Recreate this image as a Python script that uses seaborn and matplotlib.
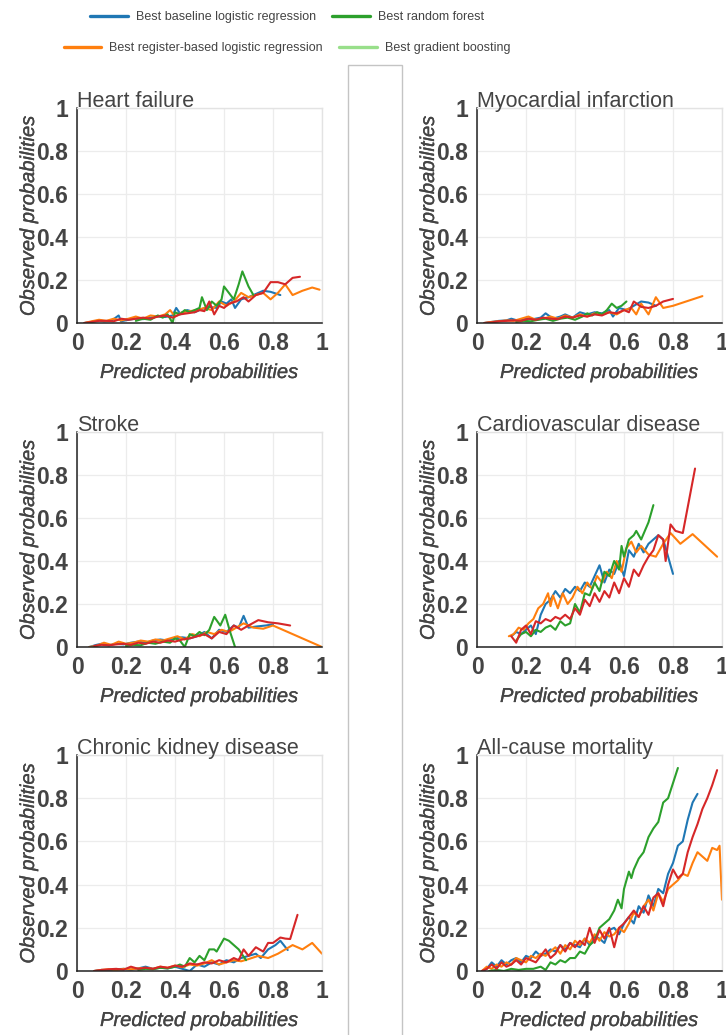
import numpy as np
import pandas as pd
import matplotlib
matplotlib.use("Agg")
import matplotlib.pyplot as plt
import seaborn as sns
from matplotlib.lines import Line2D
from matplotlib.patches import Rectangle
from matplotlib.ticker import MultipleLocator, FuncFormatter
from matplotlib import font_manager
import matplotlib.patheffects as pe

# ---------------- data ----------------
titles = ["Heart failure", "Myocardial infarction", "Stroke",
          "Cardiovascular disease", "Chronic kidney disease", "All-cause mortality"]
models = ["Best baseline logistic regression", "Best register-based logistic regression",
          "Best random forest", "Best gradient boosting"]

hf_base_x = [0.03,0.06,0.09,0.11,0.14,0.17,0.18,0.21,0.24,0.27,0.30,0.33,0.36,0.39,0.405,0.42,0.45,0.48,0.51,0.54,0.57,0.59,0.61,0.63,0.645,0.67,0.70,0.73,0.76,0.79,0.83]
hf_base_y = [0.0,0.005,0.012,0.008,0.01,0.035,0.008,0.015,0.02,0.018,0.025,0.03,0.028,0.035,0.07,0.045,0.06,0.05,0.065,0.075,0.07,0.1,0.09,0.11,0.07,0.11,0.12,0.135,0.15,0.145,0.13]
hf_reg_x = [0.03,0.06,0.09,0.12,0.15,0.18,0.21,0.24,0.27,0.30,0.33,0.36,0.38,0.40,0.43,0.46,0.49,0.52,0.55,0.58,0.61,0.64,0.67,0.70,0.73,0.76,0.79,0.82,0.85,0.88,0.92,0.96,0.99]
hf_reg_y = [0.0,0.008,0.015,0.01,0.02,0.012,0.02,0.03,0.02,0.035,0.03,0.04,0.06,0.03,0.05,0.055,0.06,0.07,0.06,0.1,0.08,0.1,0.14,0.12,0.13,0.14,0.11,0.14,0.18,0.13,0.15,0.165,0.155]
hf_rf_x = [0.24,0.27,0.30,0.33,0.35,0.37,0.39,0.40,0.42,0.44,0.46,0.48,0.50,0.51,0.53,0.55,0.57,0.59,0.60,0.62,0.64,0.66,0.675,0.70,0.72]
hf_rf_y = [0.01,0.02,0.015,0.035,0.025,0.04,0.0,0.05,0.04,0.06,0.05,0.06,0.07,0.12,0.06,0.10,0.08,0.11,0.17,0.14,0.11,0.18,0.24,0.17,0.13]
hf_gb_x = [0.03,0.06,0.09,0.12,0.15,0.18,0.21,0.24,0.27,0.30,0.33,0.36,0.39,0.42,0.45,0.48,0.50,0.52,0.54,0.56,0.58,0.60,0.62,0.65,0.68,0.70,0.73,0.76,0.79,0.82,0.85,0.88,0.91]
hf_gb_y = [0.0,0.005,0.01,0.01,0.008,0.02,0.015,0.02,0.025,0.02,0.03,0.035,0.025,0.04,0.045,0.05,0.06,0.055,0.1,0.04,0.08,0.07,0.09,0.1,0.12,0.1,0.13,0.14,0.19,0.19,0.18,0.21,0.215]

mi_base_x = [0.03,0.06,0.09,0.12,0.14,0.17,0.20,0.23,0.26,0.28,0.31,0.34,0.36,0.39,0.42,0.45,0.48,0.51,0.54,0.555,0.58,0.61,0.64,0.67,0.70,0.73]
mi_base_y = [0.0,0.005,0.01,0.012,0.02,0.01,0.02,0.018,0.025,0.045,0.02,0.03,0.04,0.025,0.05,0.04,0.05,0.045,0.06,0.03,0.07,0.06,0.08,0.1,0.095,0.08]
mi_reg_x = [0.03,0.06,0.09,0.12,0.15,0.18,0.21,0.24,0.27,0.30,0.33,0.36,0.39,0.42,0.45,0.48,0.51,0.54,0.57,0.60,0.63,0.65,0.67,0.70,0.73,0.76,0.80,0.84,0.88,0.92]
mi_reg_y = [0.0,0.005,0.008,0.012,0.01,0.02,0.03,0.015,0.02,0.03,0.02,0.035,0.025,0.04,0.03,0.045,0.04,0.05,0.04,0.06,0.07,0.04,0.09,0.04,0.12,0.07,0.08,0.095,0.11,0.125]
mi_rf_x = [0.16,0.19,0.22,0.25,0.28,0.31,0.34,0.37,0.40,0.43,0.45,0.47,0.49,0.51,0.53,0.55,0.57,0.59,0.61]
mi_rf_y = [0.005,0.01,0.008,0.015,0.02,0.01,0.02,0.025,0.015,0.03,0.045,0.035,0.05,0.04,0.06,0.09,0.07,0.08,0.10]
mi_gb_x = [0.03,0.06,0.09,0.12,0.15,0.18,0.21,0.24,0.27,0.30,0.33,0.36,0.39,0.42,0.45,0.48,0.51,0.54,0.57,0.60,0.62,0.64,0.67,0.70,0.73,0.76,0.80]
mi_gb_y = [0.0,0.003,0.008,0.01,0.012,0.01,0.02,0.015,0.025,0.02,0.018,0.03,0.025,0.035,0.03,0.04,0.035,0.05,0.045,0.06,0.05,0.1,0.075,0.07,0.08,0.1,0.112]

st_base_x = [0.05,0.08,0.10,0.13,0.16,0.19,0.22,0.25,0.28,0.31,0.34,0.37,0.40,0.43,0.46,0.49,0.52,0.55,0.58,0.61,0.64,0.66,0.68,0.70,0.73,0.77,0.80]
st_base_y = [0.0,0.01,0.015,0.008,0.015,0.012,0.02,0.025,0.02,0.03,0.035,0.03,0.04,0.045,0.04,0.05,0.07,0.04,0.08,0.07,0.1,0.09,0.145,0.09,0.095,0.1,0.105]
st_reg_x = [0.05,0.08,0.11,0.14,0.17,0.20,0.23,0.26,0.29,0.32,0.35,0.38,0.41,0.44,0.47,0.50,0.53,0.56,0.59,0.62,0.65,0.68,0.72,0.76,0.80,0.85,0.90,0.95,1.0]
st_reg_y = [0.0,0.005,0.02,0.01,0.025,0.015,0.02,0.03,0.025,0.035,0.03,0.04,0.05,0.035,0.06,0.05,0.07,0.06,0.08,0.07,0.09,0.11,0.09,0.085,0.1,0.075,0.05,0.025,0.0]
st_rf_x = [0.20,0.23,0.26,0.29,0.32,0.35,0.38,0.40,0.42,0.44,0.46,0.48,0.50,0.52,0.54,0.56,0.585,0.605,0.625,0.645]
st_rf_y = [0.005,0.01,0.008,0.02,0.015,0.025,0.02,0.04,0.03,0.0,0.06,0.05,0.07,0.055,0.08,0.14,0.1,0.15,0.07,0.0]
st_gb_x = [0.07,0.10,0.13,0.16,0.19,0.22,0.25,0.28,0.31,0.34,0.37,0.40,0.43,0.46,0.49,0.52,0.55,0.58,0.61,0.64,0.67,0.70,0.74,0.78,0.82,0.87]
st_gb_y = [0.005,0.01,0.008,0.012,0.015,0.01,0.02,0.015,0.025,0.02,0.03,0.025,0.035,0.04,0.05,0.06,0.04,0.07,0.06,0.1,0.08,0.1,0.125,0.115,0.11,0.1]

cvd_base_x = [0.14,0.16,0.18,0.20,0.22,0.24,0.26,0.28,0.30,0.32,0.34,0.36,0.38,0.40,0.42,0.44,0.46,0.48,0.50,0.52,0.54,0.56,0.58,0.60,0.62,0.64,0.66,0.68,0.70,0.72,0.74,0.76,0.78,0.80]
cvd_base_y = [0.05,0.07,0.06,0.08,0.1,0.06,0.15,0.2,0.22,0.26,0.23,0.27,0.25,0.28,0.26,0.3,0.28,0.33,0.38,0.3,0.36,0.34,0.4,0.33,0.45,0.42,0.48,0.44,0.48,0.5,0.52,0.5,0.42,0.34]
cvd_reg_x = [0.13,0.15,0.17,0.19,0.21,0.23,0.25,0.27,0.29,0.30,0.31,0.33,0.35,0.37,0.39,0.41,0.43,0.45,0.47,0.49,0.51,0.53,0.55,0.57,0.59,0.61,0.63,0.65,0.67,0.70,0.73,0.76,0.79,0.83,0.88,0.98]
cvd_reg_y = [0.05,0.06,0.09,0.08,0.11,0.13,0.18,0.2,0.25,0.19,0.24,0.18,0.25,0.2,0.23,0.28,0.25,0.3,0.27,0.33,0.3,0.35,0.32,0.4,0.35,0.46,0.49,0.44,0.47,0.43,0.42,0.48,0.53,0.48,0.525,0.42]
cvd_rf_x = [0.16,0.18,0.20,0.22,0.24,0.26,0.28,0.30,0.32,0.34,0.36,0.38,0.40,0.42,0.44,0.46,0.48,0.50,0.52,0.54,0.56,0.58,0.59,0.60,0.62,0.64,0.65,0.67,0.70,0.72]
cvd_rf_y = [0.03,0.06,0.07,0.05,0.08,0.07,0.09,0.1,0.08,0.12,0.1,0.11,0.2,0.16,0.25,0.24,0.3,0.26,0.35,0.33,0.4,0.36,0.47,0.42,0.5,0.52,0.54,0.5,0.58,0.66]
cvd_gb_x = [0.14,0.16,0.18,0.20,0.22,0.24,0.26,0.28,0.30,0.32,0.34,0.36,0.38,0.40,0.42,0.44,0.46,0.48,0.50,0.52,0.54,0.56,0.58,0.60,0.62,0.64,0.66,0.68,0.70,0.72,0.74,0.76,0.77,0.79,0.81,0.84,0.89]
cvd_gb_y = [0.05,0.02,0.08,0.1,0.06,0.12,0.11,0.13,0.12,0.14,0.13,0.15,0.13,0.18,0.15,0.22,0.19,0.25,0.21,0.26,0.23,0.3,0.25,0.32,0.28,0.36,0.33,0.38,0.42,0.45,0.52,0.5,0.4,0.57,0.54,0.53,0.83]

ckd_base_x = [0.07,0.10,0.13,0.16,0.19,0.22,0.25,0.28,0.31,0.34,0.37,0.40,0.43,0.46,0.49,0.52,0.55,0.58,0.61,0.64,0.67,0.70,0.73,0.75,0.78,0.81,0.83,0.86]
ckd_base_y = [0.0,0.005,0.003,0.008,0.01,0.006,0.012,0.02,0.01,0.015,0.012,0.02,0.01,0.0,0.03,0.02,0.04,0.03,0.05,0.04,0.06,0.07,0.08,0.06,0.1,0.12,0.14,0.097]
ckd_reg_x = [0.07,0.10,0.13,0.16,0.19,0.22,0.25,0.28,0.31,0.34,0.37,0.40,0.43,0.46,0.49,0.52,0.55,0.58,0.61,0.64,0.67,0.70,0.74,0.78,0.82,0.85,0.88,0.92,0.96,1.0]
ckd_reg_y = [0.0,0.005,0.008,0.004,0.01,0.008,0.012,0.015,0.01,0.02,0.015,0.025,0.018,0.03,0.025,0.035,0.05,0.03,0.04,0.05,0.045,0.055,0.07,0.06,0.08,0.1,0.12,0.1,0.13,0.08]
ckd_rf_x = [0.25,0.28,0.31,0.34,0.37,0.40,0.42,0.44,0.46,0.48,0.50,0.52,0.54,0.56,0.57,0.59,0.60,0.62,0.64,0.66,0.69]
ckd_rf_y = [0.005,0.01,0.008,0.015,0.012,0.02,0.03,0.02,0.06,0.04,0.07,0.05,0.1,0.1,0.09,0.13,0.15,0.14,0.12,0.1,0.05]
ckd_gb_x = [0.07,0.10,0.13,0.16,0.19,0.22,0.25,0.28,0.31,0.34,0.37,0.40,0.43,0.46,0.49,0.52,0.55,0.58,0.61,0.64,0.66,0.68,0.70,0.73,0.76,0.78,0.80,0.83,0.85,0.87,0.90]
ckd_gb_y = [0.0,0.005,0.008,0.01,0.006,0.02,0.01,0.015,0.01,0.02,0.015,0.025,0.02,0.035,0.03,0.04,0.035,0.05,0.04,0.06,0.05,0.1,0.07,0.11,0.09,0.13,0.13,0.155,0.15,0.148,0.26]

acm_base_x = [0.02,0.04,0.06,0.08,0.10,0.12,0.14,0.16,0.18,0.20,0.22,0.24,0.26,0.28,0.30,0.32,0.34,0.36,0.38,0.40,0.42,0.44,0.46,0.48,0.50,0.52,0.54,0.56,0.58,0.60,0.62,0.64,0.66,0.68,0.70,0.72,0.74,0.76,0.78,0.80,0.82,0.84,0.86,0.88,0.90]
acm_base_y = [0.0,0.01,0.04,0.02,0.05,0.03,0.05,0.06,0.04,0.07,0.06,0.09,0.07,0.08,0.1,0.09,0.12,0.1,0.13,0.12,0.11,0.15,0.12,0.16,0.15,0.13,0.19,0.2,0.17,0.22,0.25,0.22,0.3,0.27,0.35,0.3,0.38,0.36,0.45,0.5,0.58,0.6,0.7,0.78,0.82]
acm_reg_x = [0.02,0.04,0.06,0.08,0.10,0.12,0.14,0.16,0.18,0.20,0.22,0.24,0.26,0.28,0.30,0.32,0.34,0.36,0.38,0.40,0.42,0.44,0.46,0.48,0.50,0.52,0.54,0.56,0.58,0.60,0.62,0.64,0.66,0.68,0.70,0.72,0.74,0.76,0.78,0.80,0.82,0.84,0.86,0.88,0.90,0.92,0.94,0.96,0.98,0.99,1.0]
acm_reg_y = [0.0,0.02,0.01,0.03,0.02,0.04,0.03,0.06,0.05,0.04,0.07,0.06,0.08,0.07,0.09,0.11,0.08,0.12,0.1,0.14,0.12,0.15,0.13,0.17,0.14,0.18,0.16,0.17,0.2,0.18,0.22,0.27,0.25,0.3,0.33,0.28,0.36,0.32,0.38,0.4,0.42,0.45,0.44,0.5,0.55,0.53,0.51,0.57,0.56,0.58,0.33]
acm_rf_x = [0.05,0.08,0.11,0.14,0.17,0.20,0.23,0.26,0.28,0.30,0.32,0.34,0.36,0.38,0.40,0.42,0.44,0.46,0.48,0.50,0.52,0.54,0.56,0.575,0.59,0.60,0.62,0.63,0.64,0.66,0.68,0.70,0.72,0.74,0.76,0.78,0.80,0.82]
acm_rf_y = [0.0,0.005,0.0,0.01,0.005,0.01,0.01,0.02,0.005,0.04,0.03,0.05,0.04,0.06,0.06,0.09,0.08,0.12,0.14,0.2,0.22,0.24,0.28,0.33,0.29,0.38,0.46,0.43,0.47,0.52,0.55,0.62,0.66,0.69,0.78,0.8,0.87,0.94]
acm_gb_x = [0.02,0.04,0.06,0.08,0.10,0.12,0.14,0.16,0.18,0.20,0.22,0.24,0.26,0.28,0.30,0.32,0.34,0.36,0.38,0.40,0.42,0.44,0.46,0.48,0.50,0.52,0.54,0.56,0.58,0.60,0.62,0.64,0.66,0.68,0.70,0.72,0.74,0.76,0.78,0.80,0.82,0.84,0.86,0.88,0.90,0.92,0.94,0.96,0.98]
acm_gb_y = [0.0,0.01,0.03,0.01,0.04,0.02,0.03,0.05,0.03,0.06,0.05,0.04,0.07,0.1,0.06,0.08,0.12,0.09,0.13,0.11,0.14,0.12,0.2,0.13,0.19,0.15,0.2,0.11,0.2,0.22,0.25,0.28,0.25,0.3,0.26,0.34,0.36,0.3,0.4,0.47,0.43,0.45,0.55,0.62,0.68,0.75,0.8,0.86,0.93]

panels = [
    [(hf_base_x, hf_base_y), (hf_reg_x, hf_reg_y), (hf_rf_x, hf_rf_y), (hf_gb_x, hf_gb_y)],
    [(mi_base_x, mi_base_y), (mi_reg_x, mi_reg_y), (mi_rf_x, mi_rf_y), (mi_gb_x, mi_gb_y)],
    [(st_base_x, st_base_y), (st_reg_x, st_reg_y), (st_rf_x, st_rf_y), (st_gb_x, st_gb_y)],
    [(cvd_base_x, cvd_base_y), (cvd_reg_x, cvd_reg_y), (cvd_rf_x, cvd_rf_y), (cvd_gb_x, cvd_gb_y)],
    [(ckd_base_x, ckd_base_y), (ckd_reg_x, ckd_reg_y), (ckd_rf_x, ckd_rf_y), (ckd_gb_x, ckd_gb_y)],
    [(acm_base_x, acm_base_y), (acm_reg_x, acm_reg_y), (acm_rf_x, acm_rf_y), (acm_gb_x, acm_gb_y)],
]

line_colors = ["#1f77b4", "#ff7f0e", "#2ca02c", "#d62728"]
legend_colors = ["#1f77b4", "#ff7f0e", "#2ca02c", "#98df8a"]

# ---------------- style ----------------
sns.set_theme(style="white")
names = {f.name for f in font_manager.fontManager.ttflist}
main_font = "Liberation Sans" if "Liberation Sans" in names else "DejaVu Sans"
narrow_font = "Liberation Sans Narrow" if "Liberation Sans Narrow" in names else main_font
plt.rcParams["font.family"] = [main_font, "DejaVu Sans"]
TXT = "#444444"

W, H = 726, 1035
fig = plt.figure(figsize=(W / 100, H / 100), dpi=100)
fig.patch.set_facecolor("white")

# divider box between the columns
fig.patches.append(Rectangle((348 / W, -0.01), 54 / W, (H - 65) / H + 0.01,
                             transform=fig.transFigure, fill=False,
                             edgecolor="#c4c4c4", linewidth=1.0, zorder=0))

col_left = [77, 477]
row_top = [108, 432, 755]
row_bot = [323, 647, 971]
thick = [pe.withStroke(linewidth=0.22, foreground=TXT)]

for i, (title, series) in enumerate(zip(titles, panels)):
    r, c = divmod(i, 2)
    l = col_left[c]
    h = row_bot[r] - row_top[r]
    ax = fig.add_axes([l / W, 1 - row_bot[r] / H, 245 / W, h / H])
    frames = []
    for m, (xs, ys) in zip(models, series):
        frames.append(pd.DataFrame({"x": xs, "y": ys, "model": m}))
    df = pd.concat(frames, ignore_index=True)
    sns.lineplot(data=df, x="x", y="y", hue="model", hue_order=models,
                 palette=dict(zip(models, line_colors)), estimator=None,
                 sort=False, units="model", legend=False, linewidth=1.5, ax=ax)
    ax.set_xlim(0, 1)
    ax.set_ylim(0, 1)
    ax.xaxis.set_major_locator(MultipleLocator(0.2))
    ax.yaxis.set_major_locator(MultipleLocator(0.2))
    ax.xaxis.set_minor_locator(MultipleLocator(0.04))
    ax.yaxis.set_minor_locator(MultipleLocator(0.04))
    fmt = FuncFormatter(lambda v, p: f"{v:g}")
    ax.xaxis.set_major_formatter(fmt)
    ax.yaxis.set_major_formatter(fmt)
    ax.grid(True, which="major", color="#ececec", linewidth=0.9)
    ax.set_axisbelow(True)
    for s in ["top", "right"]:
        ax.spines[s].set_color("#e3e3e3")
        ax.spines[s].set_linewidth(1.0)
    for s in ["left", "bottom"]:
        ax.spines[s].set_color("#222222")
        ax.spines[s].set_linewidth(1.1)
    ax.tick_params(which="major", direction="out", length=5, width=1.0, color="#222222",
                   pad=1.5, labelsize=16.5, labelcolor=TXT)
    ax.tick_params(which="minor", direction="out", length=3, width=0.9, color="#222222")
    for lab in ax.get_xticklabels() + ax.get_yticklabels():
        lab.set_fontweight("bold")
    xl = ax.set_xlabel("Predicted probabilities", fontsize=14.5, style="italic",
                       color=TXT, va="top")
    yl = ax.set_ylabel("Observed probabilities", fontsize=14.5, style="italic", color=TXT)
    xl.set_path_effects(thick)
    yl.set_path_effects(thick)
    ax.xaxis.set_label_coords(0.5, -40 / h)
    ax.yaxis.set_label_coords(-(77 - 38) / 245, 0.5)
    ax.set_title(title, loc="left", fontsize=15.5, color=TXT, pad=0.5)

# legend (two centered rows)
fs = 9.0
handles = [Line2D([], [], color=cc, linewidth=2.4) for cc in legend_colors]
row1 = [0, 2]
row2 = [1, 3]
for idxs, yy in [(row1, 17), (row2, 48)]:
    leg = fig.legend([handles[k] for k in idxs], [models[k] for k in idxs],
                     loc="center", bbox_to_anchor=(287 / W, 1 - yy / H), ncol=2,
                     frameon=False, handlelength=3.0, handletextpad=0.64,
                     columnspacing=1.28, borderaxespad=0, borderpad=0,
                     prop={"family": narrow_font, "size": fs})
    for t in leg.get_texts():
        t.set_color(TXT)

fig.savefig("out.png", dpi=100)
